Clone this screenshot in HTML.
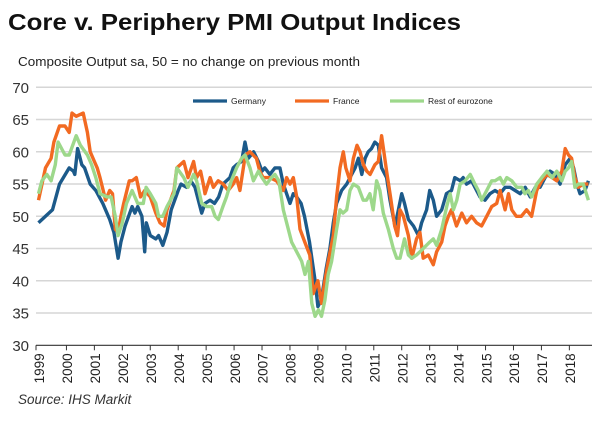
<!DOCTYPE html>
<html><head><meta charset="utf-8"><style>
body{margin:0;background:#fff;width:600px;height:421px;overflow:hidden;font-family:"Liberation Sans",sans-serif}
</style></head><body>
<svg id="chart" width="600" height="421" xmlns="http://www.w3.org/2000/svg" font-family="Liberation Sans, sans-serif">
<text x="8" y="30" font-size="23" font-weight="bold" fill="#111" textLength="453" lengthAdjust="spacingAndGlyphs">Core v. Periphery PMI Output Indices</text>
<text x="18" y="66" font-size="13.3" fill="#222" textLength="342" lengthAdjust="spacingAndGlyphs">Composite Output sa, 50 = no change on previous month</text>
<text x="18" y="404" font-size="13.5" font-style="italic" fill="#333">Source: IHS Markit</text>
<g id="grid"></g><g id="axes"></g><g id="series"></g><g id="legend"></g>
</svg>
<script>
const yTicks=[30,35,40,45,50,55,60,65,70];
const years=[1999,2000,2001,2002,2003,2004,2005,2006,2007,2008,2009,2010,2011,2012,2013,2014,2015,2016,2017,2018];
const seriesNames=["Germany","France","Rest of eurozone"];
const deDates=[1999.0,1999.25,1999.5,1999.75,2000.1,2000.25,2000.3,2000.4,2000.55,2000.65,2000.85,2001.05,2001.3,2001.55,2001.7,2001.85,2001.95,2002.1,2002.35,2002.45,2002.55,2002.7,2002.8,2002.86,2003.0,2003.2,2003.3,2003.45,2003.6,2003.75,2004.0,2004.1,2004.3,2004.45,2004.6,2004.84,2004.96,2005.14,2005.3,2005.45,2005.6,2005.85,2005.97,2006.09,2006.27,2006.39,2006.51,2006.7,2006.87,2007.0,2007.1,2007.28,2007.46,2007.64,2007.76,2007.88,2008.0,2008.12,2008.24,2008.4,2008.52,2008.7,2008.9,2009.0,2009.12,2009.3,2009.43,2009.55,2009.67,2009.85,2010.03,2010.15,2010.33,2010.45,2010.57,2010.69,2010.8,2010.92,2011.04,2011.16,2011.28,2011.46,2011.58,2011.76,2011.88,2012.0,2012.1,2012.24,2012.42,2012.6,2012.71,2012.89,2013.0,2013.13,2013.25,2013.43,2013.6,2013.78,2013.9,2014.1,2014.2,2014.32,2014.5,2014.68,2014.8,2014.98,2015.16,2015.34,2015.52,2015.7,2015.88,2016.06,2016.24,2016.42,2016.6,2016.78,2016.95,2017.13,2017.31,2017.49,2017.67,2017.85,2018.03,2018.15,2018.27,2018.38,2018.56,2018.68];
const deValues=[49,50,51,55,57.5,57,56.5,60.5,58,57.5,55,54,52,49.5,47.5,43.5,46,48.5,51.5,50.5,51.5,50,44.5,49,47,46.5,47,45.5,47.5,51,54,55,54.5,55.5,54.5,50.5,52,52.5,52,53,55,56,57.5,58,58.5,61.5,59,60,58.5,57,57.5,56.5,57.5,57.5,55,53.5,52,53.5,53,52,50,46,40,36,37,42,45,49,52,54,55,56,57.5,59,56.5,59,60,60.5,61.5,61,57.5,56,52.5,48.5,51,53.5,52,49.5,48.5,47,49,51,54,52.5,50,51,53.5,54,56,55.5,56,55,55.5,54,53,52.5,53.5,54,53.5,54.5,54.5,54,53.5,54.5,53,54.5,54.5,56,57,56.5,55,58,59,57.5,55,53.5,54,55.5];
const frDates=[1999.0,1999.15,1999.25,1999.45,1999.55,1999.75,1999.95,2000.1,2000.2,2000.35,2000.6,2000.75,2000.85,2001.0,2001.1,2001.2,2001.4,2001.55,2001.65,2001.75,2001.85,2001.95,2002.05,2002.25,2002.35,2002.5,2002.65,2002.8,2002.9,2003.0,2003.2,2003.35,2003.5,2003.6,2003.85,2003.95,2004.2,2004.35,2004.55,2004.66,2004.8,2004.9,2004.96,2005.14,2005.26,2005.43,2005.61,2005.79,2005.97,2006.09,2006.21,2006.4,2006.57,2006.8,2006.92,2007.04,2007.28,2007.52,2007.76,2007.88,2008.0,2008.12,2008.24,2008.36,2008.53,2008.71,2008.83,2008.95,2009.0,2009.13,2009.25,2009.37,2009.55,2009.67,2009.79,2009.91,2010.0,2010.15,2010.27,2010.4,2010.51,2010.63,2010.75,2010.87,2011.04,2011.16,2011.28,2011.46,2011.6,2011.75,2011.85,2011.94,2012.06,2012.24,2012.36,2012.53,2012.65,2012.77,2012.95,2013.13,2013.25,2013.43,2013.55,2013.67,2013.78,2013.96,2014.15,2014.32,2014.5,2014.68,2014.86,2015.04,2015.22,2015.4,2015.52,2015.7,2015.82,2015.94,2016.1,2016.28,2016.47,2016.65,2016.83,2017.01,2017.2,2017.38,2017.55,2017.73,2017.85,2017.97,2018.08,2018.2,2018.32,2018.5,2018.68];
const frValues=[52.5,55.5,57.5,59,61.5,64,64,63,66,65.5,66,63,60,58.5,57.5,56,52.5,54,53.5,48,47.5,50,52,55.5,55.5,56,53,54,53.5,53,50.5,49,48.5,51,54,57.5,58.5,56,58.5,56,57,55,53.5,56,54.5,55.5,55,54,55,56,54,59.5,60,59,57,56,56,55.5,54,56,55,56,53,48,46,44,38,39.5,40,36.5,40,43,47,53,57.5,60,57.5,55.5,59,61,60,58,57,56.5,58,58.5,62.5,57,53,48.5,47,51,50,47,43.5,46.5,47.5,43.5,44,42.5,44.5,46,48.5,50,51,48.5,50.5,49,50,49,48.5,50,51.5,52,54,51,53.5,51,50,50,51,50,54,55.5,56.5,56,55.5,57,60.5,59.5,59,56,54.5,55,55];
const rzDates=[1999.0,1999.12,1999.3,1999.45,1999.6,1999.7,1999.95,2000.1,2000.35,2000.5,2000.75,2000.9,2001.05,2001.2,2001.45,2001.6,2001.75,2001.85,2002.0,2002.15,2002.35,2002.45,2002.55,2002.75,2002.85,2003.0,2003.2,2003.3,2003.45,2003.6,2003.85,2003.95,2004.2,2004.35,2004.55,2004.66,2004.84,2005.02,2005.2,2005.32,2005.44,2005.6,2005.73,2005.9,2006.09,2006.27,2006.39,2006.57,2006.69,2006.87,2007.0,2007.16,2007.34,2007.46,2007.6,2007.76,2007.94,2008.06,2008.24,2008.42,2008.54,2008.66,2008.78,2008.9,2009.02,2009.13,2009.25,2009.37,2009.49,2009.67,2009.79,2009.9,2010.03,2010.15,2010.27,2010.45,2010.62,2010.74,2010.86,2010.98,2011.1,2011.22,2011.34,2011.52,2011.7,2011.82,2011.94,2012.1,2012.24,2012.36,2012.53,2012.77,2013.0,2013.13,2013.25,2013.43,2013.61,2013.73,2013.85,2013.97,2014.09,2014.27,2014.45,2014.62,2014.74,2014.86,2015.04,2015.22,2015.34,2015.52,2015.64,2015.76,2015.94,2016.12,2016.3,2016.41,2016.53,2016.65,2016.83,2017.01,2017.2,2017.38,2017.55,2017.73,2017.85,2017.97,2018.08,2018.2,2018.32,2018.5,2018.68];
const rzValues=[53.5,55.5,56.5,55.5,58,61.5,59.5,59.5,62.5,61,59.5,58,56,53.5,53,53,50,47,49,52,54,53,52,52,54.5,53.5,52,50,50,51.5,53.5,57.5,56,54.5,56.5,55.5,52,51.5,51.5,50,49.5,51.5,53,55.5,57.5,59,59.5,57.5,55.5,57,56,55,56,56.5,55.5,51,48,46,44.5,43,41,43,36.5,34.5,35.5,34.5,37,41,43,48,51,50.5,51,54,55,54.5,52.5,52.5,53.5,51,55.5,54,50.5,48,45,43.5,43.5,46.5,44,43.5,44,45,46,46.5,45.5,48,51.5,53.5,51,52.5,55,55.5,56.5,55,54,52.5,54,55.5,55.5,56,55,56,55.5,54.5,54.5,53.5,54,53,55,56,57,56,57,55.5,57,57.5,58.5,54.5,55,55,52.5];

const NS="http://www.w3.org/2000/svg";
const X0=38.5,PX=27.94,Y70=87.3,PY=6.45;
function xs(t){return X0+(t-1999)*PX;}
function ys(v){return Y70+(70-v)*PY;}
function mk(tag,attrs,parent){const e=document.createElementNS(NS,tag);for(const k in attrs)e.setAttribute(k,attrs[k]);parent.appendChild(e);return e;}
const grid=document.getElementById('grid'),axes=document.getElementById('axes'),ser=document.getElementById('series'),leg=document.getElementById('legend');
yTicks.forEach(v=>{
  if(v>30){const l=mk('line',{x1:36,x2:592,y1:ys(v),y2:ys(v),stroke:'#d6d6d6','stroke-width':1.5},grid);
  
  }
  const t=mk('text',{x:29,y:ys(v)+5.5,'text-anchor':'end','font-size':15,fill:'#333'},axes);
  t.textContent=v;
  
  
});
const ax=mk('line',{x1:36,x2:592,y1:ys(30),y2:ys(30),stroke:'#333','stroke-width':1.2},axes);


years.forEach((y,i)=>{
  const tx=i===0?36:xs(y);
  const tk=mk('line',{x1:tx,x2:tx,y1:ys(30),y2:ys(30)+5,stroke:'#333','stroke-width':1},axes);
  
  
  const lx=xs(y)+1,ly=ys(30)+8;
  const t=mk('text',{x:lx,y:ly,transform:`rotate(-90 ${lx} ${ly})`,'text-anchor':'end','font-size':13.5,fill:'#222',dy:'0.35em'},axes);
  t.textContent=y;
  
  
});
const colors=['#1c5a8a','#f26a22','#9dd88b'];
const all=[[deDates,deValues],[frDates,frValues],[rzDates,rzValues]];
[0,1,2].forEach(i=>{
  const [d,v]=all[i];
  const pts=d.map((t,j)=>xs(t).toFixed(1)+','+ys(v[j]).toFixed(1)).join(' ');
  const p=mk('polyline',{points:pts,fill:'none',stroke:colors[i],'stroke-width':3.4,'stroke-linejoin':'round'},ser);
  
  
});
const legX=[193,295,390];
seriesNames.forEach((n,i)=>{
  const l=mk('line',{x1:legX[i],x2:legX[i]+34,y1:101,y2:101,stroke:colors[i],'stroke-width':3.2},leg);
  
  
  const t=mk('text',{x:legX[i]+38,y:104,'font-size':8.5,fill:'#222'},leg);
  t.textContent=n;
  
  
});
</script>
</body></html>
